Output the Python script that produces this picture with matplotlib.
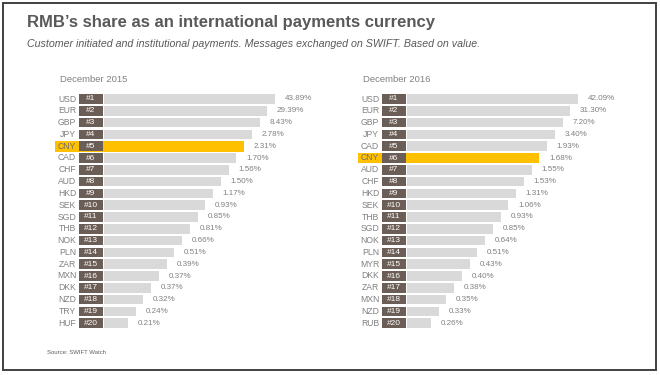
import matplotlib
matplotlib.use("Agg")
import matplotlib.pyplot as plt
from matplotlib.patches import Rectangle

# ============================================================
# Data
# ============================================================
cur_2015 = ["USD", "EUR", "GBP", "JPY", "CNY", "CAD", "CHF", "AUD", "HKD", "SEK",
            "SGD", "THB", "NOK", "PLN", "ZAR", "MXN", "DKK", "NZD", "TRY", "HUF"]
share_2015 = [43.89, 29.39, 8.43, 2.78, 2.31, 1.70, 1.56, 1.50, 1.17, 0.93,
              0.85, 0.81, 0.66, 0.51, 0.39, 0.37, 0.37, 0.32, 0.24, 0.21]

cur_2016 = ["USD", "EUR", "GBP", "JPY", "CAD", "CNY", "AUD", "CHF", "HKD", "SEK",
            "THB", "SGD", "NOK", "PLN", "MYR", "DKK", "ZAR", "MXN", "NZD", "RUB"]
share_2016 = [42.09, 31.30, 7.20, 3.40, 1.93, 1.68, 1.55, 1.53, 1.31, 1.06,
              0.93, 0.85, 0.64, 0.51, 0.43, 0.40, 0.38, 0.35, 0.33, 0.26]

ranks = list(range(1, 21))

# ============================================================
# Style
# ============================================================
plt.rcParams['font.family'] = ['Liberation Sans', 'DejaVu Sans']
GREY_BAR = "#D9D9D9"
RANK_BOX = "#6B5E57"
YELLOW = "#FFC000"
TEXT = "#808080"
TITLE = "#595959"

W, H = 660, 375
fig = plt.figure(figsize=(W / 100, H / 100), dpi=100)
fig.patch.set_facecolor("white")

XMIN, XMAX = -8.5, 28.0
PX = 7.74            # pixels per bar unit
Y_TOP, Y_BOT = 90, 330


def draw_panel(x0_px, currencies, shares, title):
    left_px = x0_px + XMIN * PX
    width_px = (XMAX - XMIN) * PX
    ax = fig.add_axes([left_px / W, 1 - Y_BOT / H, width_px / W, (Y_BOT - Y_TOP) / H])
    ax.set_xlim(XMIN, XMAX)
    ax.set_ylim((Y_BOT - 99) / 11.8, (Y_TOP - 99) / 11.8)
    ax.axis("off")

    # bars shrink with rank, not with value
    lengths = [23.1 - r for r in ranks]
    for i, (c, s, r, L) in enumerate(zip(currencies, shares, ranks, lengths)):
        if c == "CNY":
            ax.barh(i, L + 6.3, left=-6.3, height=0.9, color=YELLOW, zorder=1)
        else:
            ax.barh(i, L, left=0, height=0.8, color=GREY_BAR, zorder=1)
        ax.barh(i, 3.1, left=-3.23, height=0.8, color=RANK_BOX, zorder=2)
        ax.text(-1.68, i, f"#{r}", color="white", fontsize=6, ha="center",
                va="center", zorder=3)
        ax.text(-3.6, i, c, color="#707070" if c == "CNY" else TEXT, fontsize=6.2,
                ha="right", va="center", zorder=3)
        ax.annotate(f"{s:.2f}%", (L, i), xytext=(7, 0), textcoords="offset points",
                    color=TEXT, fontsize=5.8, ha="left", va="center")
    fig.text((x0_px - 44) / W, 1 - 80 / H, title, color=TEXT, fontsize=6.8,
             ha="left", va="center")
    return ax


draw_panel(104, cur_2015, share_2015, "December 2015")
draw_panel(407, cur_2016, share_2016, "December 2016")

fig.text(27 / W, 1 - 23 / H, "RMB\u2019s share as an international payments currency",
         color=TITLE, fontsize=12, fontweight="bold", ha="left", va="center")
fig.text(27 / W, 1 - 44 / H,
         "Customer initiated and institutional payments. Messages exchanged on SWIFT. Based on value.",
         color=TITLE, fontsize=7.7, style="italic", ha="left", va="center")
fig.text(47 / W, 1 - 352 / H, "Source: SWIFT Watch", color="#606060", fontsize=4.3,
         ha="left", va="center")

# outer frame
fig.add_artist(Rectangle((3 / W, 1 - 370 / H), 653 / W, 367 / H, transform=fig.transFigure,
                         fill=False, edgecolor="#404040", linewidth=1.4))

fig.savefig("out.png", dpi=100)
